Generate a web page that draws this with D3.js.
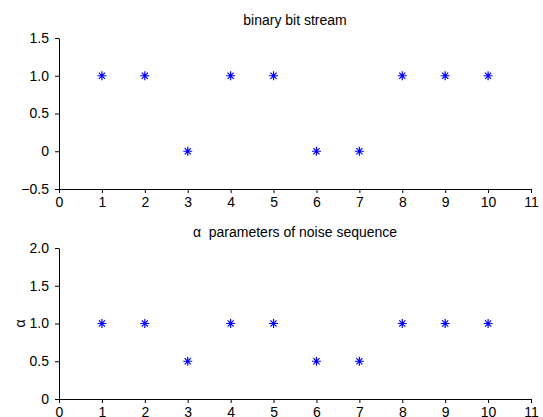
<!DOCTYPE html>
<html>
<head>
<meta charset="utf-8">
<script src="https://cdn.jsdelivr.net/npm/d3@7"></script>
<style>
  html, body { margin: 0; padding: 0; background: #fff; }
  svg { display: block; }
  text { font-family: "Liberation Sans", Arial, Helvetica, sans-serif; fill: #000; }
</style>
</head>
<body>
<svg id="chart" width="543" height="417"></svg>
<script>
// Bit index along the stream
const bitIndex = [1, 2, 3, 4, 5, 6, 7, 8, 9, 10];
// Transmitted binary bits
const bits = [1, 1, 0, 1, 1, 0, 0, 1, 1, 1];
// Noise alpha parameter for each bit
const alphas = [1, 1, 0.5, 1, 1, 0.5, 0.5, 1, 1, 1];

const xTicks = [0, 1, 2, 3, 4, 5, 6, 7, 8, 9, 10, 11];
const bitTicks = [-0.5, 0, 0.5, 1, 1.5];
const bitTickLabels = ["\u22120.5", "0", "0.5", "1.0", "1.5"];
const alphaTicks = [0, 0.5, 1, 1.5, 2];
const alphaTickLabels = ["0", "0.5", "1.0", "1.5", "2.0"];

const svg = d3.select("#chart");
const left = 59, right = 531;
const fontSize = 14;

// MATLAB-style '*' marker: plus plus diagonal cross
function asterisk(r) {
  const d = r * 0.68;
  return `M${-r},0L${r},0M0,${-r}L0,${r}M${-d},${-d}L${d},${d}M${-d},${d}L${d},${-d}`;
}

function panel(opts) {
  const g = svg.append("g");
  const x = d3.scaleLinear().domain([0, 11]).range([left, right]);
  const y = d3.scaleLinear().domain(opts.yDomain).range([opts.bottom, opts.top]);

  const xAxis = d3.axisBottom(x).tickValues(xTicks).tickFormat(d3.format("d"))
    .tickSizeInner(4).tickSizeOuter(0).tickPadding(4);
  const yAxis = d3.axisLeft(y).tickValues(opts.yTicks)
    .tickFormat((d, i) => opts.yLabels[i])
    .tickSizeInner(4).tickSizeOuter(0).tickPadding(6);

  const gx = g.append("g").attr("transform", `translate(0,${opts.bottom})`).call(xAxis);
  const gy = g.append("g").attr("transform", `translate(${left},0)`).call(yAxis);
  [gx, gy].forEach(a => {
    a.selectAll("text").attr("font-size", fontSize).attr("font-family", null).style("fill", "#000");
    a.selectAll("path, line").attr("stroke", "#000");
    a.attr("font-family", null);
  });

  g.append("text")
    .attr("x", (left + right) / 2)
    .attr("y", opts.titleY)
    .attr("text-anchor", "middle")
    .attr("font-size", fontSize)
    .style("white-space", "pre")
    .text(opts.title);

  if (opts.yLabel) {
    g.append("text")
      .attr("transform", `translate(${opts.yLabelX},${(opts.top + opts.bottom) / 2}) rotate(-90)`)
      .attr("text-anchor", "middle")
      .attr("font-size", fontSize)
      .text(opts.yLabel);
  }

  g.append("g").selectAll("path")
    .data(opts.values)
    .join("path")
    .attr("transform", (d, i) => `translate(${x(bitIndex[i])},${y(d)})`)
    .attr("d", asterisk(4.5))
    .attr("fill", "none")
    .attr("stroke", "#0000ff")
    .attr("stroke-width", 1.2);
}

panel({
  top: 38, bottom: 189, yDomain: [-0.5, 1.5],
  yTicks: bitTicks, yLabels: bitTickLabels,
  values: bits, title: "binary bit stream", titleY: 25
});

panel({
  top: 248, bottom: 399, yDomain: [0, 2],
  yTicks: alphaTicks, yLabels: alphaTickLabels,
  values: alphas, title: "\u03b1  parameters of noise sequence", titleY: 237,
  yLabel: "\u03b1", yLabelX: 25
});
</script>
</body>
</html>
